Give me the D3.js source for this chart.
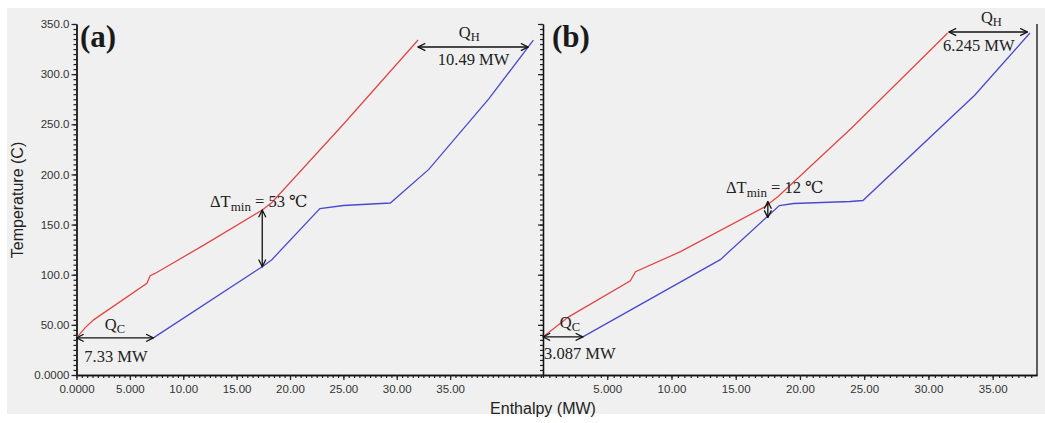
<!DOCTYPE html>
<html>
<head>
<meta charset="utf-8">
<script src="https://cdn.jsdelivr.net/npm/d3@7"></script>
<style>
body{margin:0;background:#fff;}
.tick text{font-family:"Liberation Sans",Arial,sans-serif;font-size:11.5px;fill:#333;}
.ann{font-family:"Liberation Serif","DejaVu Serif",serif;font-size:16.5px;fill:#222;}
</style>
</head>
<body>
<script>
// composite curves, enthalpy (MW) vs temperature (C)
var hotA  = [[0,37],[0.8,47],[1.6,55],[6.6,91.5],[6.9,99],[7.4,101.5],[12,130],[17.4,164.5],[18.3,172],[25,250],[32,334]];
var coldA = [[7.2,37],[17.4,108],[18.3,115],[22.8,166],[25,169],[29.4,171.5],[33,205],[38.6,275],[42.8,334]];
var hotB  = [[0,38],[2,58],[6.8,94],[7.2,103],[10.7,123],[17.3,168],[18.3,178],[24,246],[31.5,341]];
var coldB = [[3.1,38],[13.8,115],[18.4,169],[19.5,171],[23.9,173],[24.9,174],[33.6,279],[37.9,341]];

var yTicks  = [0,50,100,150,200,250,300,350];
var yLabels = ["0.0000","50.00","100.0","150.0","200.0","250.0","300.0","350.0"];
var xTicksA  = [0,5,10,15,20,25,30,35];
var xLabelsA = ["0.0000","5.000","10.00","15.00","20.00","25.00","30.00","35.00"];
var xTicksB  = [5,10,15,20,25,30,35];
var xLabelsB = ["5.000","10.00","15.00","20.00","25.00","30.00","35.00"];

var svgwidth=1045,svgheight=423;
var top0=24,bot0=375;

var svg=d3.select("body").append("svg")
	.attr("width",svgwidth)
	.attr("height",svgheight);

svg.append("rect")
	.attr("x",7).attr("y",8)
	.attr("width",svgwidth-7)
	.attr("height",406)
	.attr("fill","#f0f0f0");

var y=d3.scaleLinear().domain([0,350]).range([bot0,top0]);
var xA=d3.scaleLinear().domain([0,43.7]).range([76.5,543]);
var xB=d3.scaleLinear().domain([0,38.45]).range([543,1037]);

function minor(lo,hi,step){
	var a=[];
	for(var v=lo;v<=hi+1e-9;v+=step) a.push(+v.toFixed(3));
	return a;
}

function drawAxes(g,x,ticks,labels,showY){
	var x0=x.range()[0];
	// y axis: minor then major
	g.append("g").attr("transform","translate("+x0+",0)")
		.call(d3.axisLeft(y).tickValues(minor(0,350,5)).tickSize(3).tickSizeOuter(0).tickFormat(""));
	var ya=g.append("g").attr("transform","translate("+x0+",0)")
		.call(d3.axisLeft(y).tickValues(yTicks).tickSize(5).tickSizeOuter(0)
			.tickFormat(function(d,i){return showY?yLabels[i]:"";}));
	// x axis
	g.append("g").attr("transform","translate(0,"+bot0+")")
		.call(d3.axisBottom(x).tickValues(minor(0,x.domain()[1],0.5)).tickSize(3).tickSizeOuter(0).tickFormat(""));
	var xa=g.append("g").attr("transform","translate(0,"+bot0+")")
		.call(d3.axisBottom(x).tickValues(ticks).tickSize(5).tickSizeOuter(0)
			.tickFormat(function(d,i){return labels[i];}));
	g.selectAll(".domain").attr("stroke","#111").attr("stroke-width",1.3);
	g.selectAll(".tick line").attr("stroke","#222").attr("stroke-width",1.2);
	xa.selectAll(".tick text").attr("dy","0.9em");
	ya.selectAll(".tick text").attr("dy","0.32em").attr("x",-7);
}

var gA=svg.append("g").attr("id","ga");
var gB=svg.append("g").attr("id","gb");
drawAxes(gA,xA,xTicksA,xLabelsA,true);
drawAxes(gB,xB,xTicksB,xLabelsB,false);

// right border of (b)
gB.append("line")
	.attr("x1",xB.range()[1]).attr("x2",xB.range()[1])
	.attr("y1",top0).attr("y2",bot0)
	.attr("stroke","#111").attr("stroke-width",1.3);

function curve(g,x,data,col){
	g.append("path")
		.datum(data)
		.attr("fill","none")
		.attr("stroke",col)
		.attr("stroke-width",1.3)
		.attr("d",d3.line().x(function(d){return x(d[0]);}).y(function(d){return y(d[1]);}));
}
curve(gA,xA,hotA,"#e04848");
curve(gA,xA,coldA,"#4a4ad0");
curve(gB,xB,hotB,"#e04848");
curve(gB,xB,coldB,"#4a4ad0");

// arrow heads
var defs=svg.append("defs");
defs.append("marker").attr("id","ah")
	.attr("viewBox","0 0 10 10").attr("refX",9).attr("refY",5)
	.attr("markerWidth",9).attr("markerHeight",9)
	.attr("markerUnits","userSpaceOnUse")
	.attr("orient","auto-start-reverse")
	.append("path").attr("d","M1,1 L9,5 L1,9")
	.attr("fill","none").attr("stroke","#111").attr("stroke-width",1.4);

function arrow(g,x1,y1,x2,y2){
	g.append("line")
		.attr("x1",x1).attr("y1",y1).attr("x2",x2).attr("y2",y2)
		.attr("stroke","#111").attr("stroke-width",1.3)
		.attr("marker-start","url(#ah)").attr("marker-end","url(#ah)");
}

function qlabel(g,px,py,sub){
	var t=g.append("text").attr("class","ann").attr("x",px).attr("y",py).attr("text-anchor","middle");
	t.append("tspan").text("Q");
	t.append("tspan").attr("dy",3).style("font-size","12.5px").text(sub);
}
function label(g,px,py,s,anchor){
	g.append("text").attr("class","ann").attr("x",px).attr("y",py)
		.attr("text-anchor",anchor||"middle").text(s);
}
function dtlabel(g,px,py,val){
	var t=g.append("text").attr("class","ann").attr("x",px).attr("y",py);
	t.append("tspan").text("\u0394T");
	t.append("tspan").attr("dy",4).style("font-size","13px").text("min");
	t.append("tspan").attr("dy",-4).text(" =  "+val+" \u2103");
}
function panelTag(g,px,py,s){
	g.append("text").attr("x",px).attr("y",py)
		.style("font-family","'Liberation Serif','Times New Roman',serif")
		.style("font-weight","bold").style("font-size","31px").style("fill","#1a1a1a")
		.text(s);
}

// (a)
panelTag(gA,80,47,"(a)");
arrow(gA,xA(0),y(37),xA(7.2),y(37));
qlabel(gA,xA(3.6),330,"C");
label(gA,xA(3.7),362,"7.33 MW");
arrow(gA,xA(32),47,xA(42.3),47);
qlabel(gA,xA(36.8),38,"H");
label(gA,xA(37.2),65,"10.49 MW");
arrow(gA,xA(17.4),y(164.5),xA(17.4),y(108));
dtlabel(gA,210,207,"53");

// (b)
panelTag(gB,552,47,"(b)");
arrow(gB,xB(0),y(38),xB(3.1),y(38));
qlabel(gB,xB(2.1),328,"C");
label(gB,544,359,"3.087 MW","start");
arrow(gB,xB(31.6),32,xB(37.7),32);
qlabel(gB,xB(34.9),23,"H");
label(gB,943,51,"6.245 MW","start");
arrow(gB,xB(17.5),y(173),xB(17.5),y(157));
dtlabel(gB,726,193,"12");

// axis titles
svg.append("text")
	.attr("transform","translate(23,200) rotate(-90)")
	.attr("text-anchor","middle")
	.style("font-family","'Liberation Sans',Arial,sans-serif")
	.style("font-size","16px").style("fill","#222")
	.text("Temperature (C)");
svg.append("text")
	.attr("x",543).attr("y",414)
	.attr("text-anchor","middle")
	.style("font-family","'Liberation Sans',Arial,sans-serif")
	.style("font-size","16px").style("fill","#222")
	.text("Enthalpy (MW)");
</script>
</body>
</html>
